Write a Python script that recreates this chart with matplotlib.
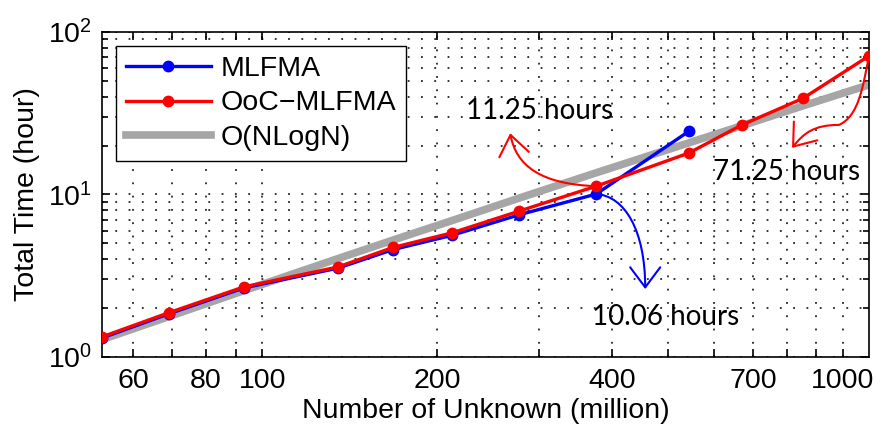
import matplotlib
matplotlib.use("Agg")
import matplotlib.pyplot as plt
from matplotlib.patches import FancyArrowPatch
from matplotlib.path import Path
from matplotlib.transforms import IdentityTransform
from matplotlib.lines import Line2D
import numpy as np

plt.rcParams["font.family"] = ["Liberation Sans", "DejaVu Sans"]

# problem size (million unknowns) and total solution time (hours)
unknowns = [53, 69, 93, 135, 168, 212, 277, 376, 543, 670, 853, 1109]
ooc_time = [1.33, 1.87, 2.70, 3.58, 4.72, 5.8, 7.9, 11.25, 18.0, 26.8, 39.0, 71.25]
mlfma_time = [1.31, 1.84, 2.66, 3.52, 4.58, 5.6, 7.5, 10.06, 24.5]
nlogn_ref = [1.28, 1.77, 2.56, 4.03, 5.24, 6.9, 9.5, 13.6, 20.8, 26.5, 35.1, 47.3]

xtick_vals = [60, 70, 80, 90, 100, 200, 300, 400, 500, 600, 700, 800, 900, 1000]
xtick_text = ["60", "", "80", "", "100", "200", "", "400", "", "", "700", "", "", "1000"]

FS = 20.5

fig = plt.figure(figsize=(8.77, 4.30), dpi=100)
ax = fig.add_axes([0.1163, 0.1698, 0.8746, 0.7558])

ax.plot(unknowns, nlogn_ref, color="#a6a6a6", lw=5.5, solid_capstyle="butt", zorder=2)
ax.plot(unknowns[:len(mlfma_time)], mlfma_time, color="#0000ff", lw=2.4,
        marker="o", ms=7.5, zorder=3)
ax.plot(unknowns, ooc_time, color="#ff0000", lw=2.4, marker="o", ms=7.5, zorder=4)

ax.set_xscale("log")
ax.set_yscale("log")
ax.set_xlim(unknowns[0], unknowns[-1])
ax.set_ylim(1, 100)

ax.set_xticks(xtick_vals)
ax.set_xticklabels(xtick_text)
ax.xaxis.set_minor_locator(matplotlib.ticker.NullLocator())
ax.yaxis.set_minor_locator(matplotlib.ticker.LogLocator(base=10, subs=np.arange(2, 10)))
ax.yaxis.set_minor_formatter(matplotlib.ticker.NullFormatter())

ax.tick_params(which="both", direction="in", top=True, right=True,
               labelsize=FS, width=1.2, color="black")
ax.tick_params(which="major", length=6)
ax.tick_params(which="minor", length=4)
ax.tick_params(axis="x", pad=8)
ax.tick_params(axis="y", pad=7)
for sp in ax.spines.values():
    sp.set_linewidth(1.2)

dots = (0, (1.2, 7.5))
ax.grid(True, which="major", axis="both", color="black", lw=1.1, linestyle=dots, zorder=0)
ax.grid(True, which="minor", axis="y", color="black", lw=1.1, linestyle=dots, zorder=0)
ax.set_axisbelow(True)

ax.set_xlabel("Number of Unknown (million)", fontsize=FS, labelpad=3)
ax.set_ylabel("Total Time (hour)", fontsize=FS, labelpad=6)

handles = [
    Line2D([], [], color="#0000ff", lw=2.4, marker="o", ms=7.5),
    Line2D([], [], color="#ff0000", lw=2.4, marker="o", ms=7.5),
    Line2D([], [], color="#a6a6a6", lw=5.5),
]
leg = ax.legend(handles, ["MLFMA", "OoC\u2212MLFMA", "O(NLogN)"],
                loc="upper left", bbox_to_anchor=(0.018, 0.957), borderaxespad=0,
                fontsize=FS, handlelength=3.0, handletextpad=0.32,
                borderpad=0.35, labelspacing=0.3, fancybox=False,
                edgecolor="black", framealpha=1)
leg.get_frame().set_linewidth(1.0)
leg.set_zorder(10)


def curved_arrow(x, y, offsets, color):
    # offsets are display-pixel Bezier control points relative to the data point
    x0, y0 = ax.transData.transform((x, y))
    verts = [(x0, y0)] + [(x0 + dx, y0 + dy) for dx, dy in offsets]
    codes = [Path.MOVETO] + [Path.CURVE4] * len(offsets)
    arrow = FancyArrowPatch(path=Path(verts, codes), transform=IdentityTransform(),
                            arrowstyle="->,head_length=0.6,head_width=0.45",
                            mutation_scale=24, color=color, lw=1.5, zorder=6)
    fig.add_artist(arrow)


curved_arrow(unknowns[7], ooc_time[7], [(-55, 2), (-80, 20), (-86, 53)], "#ff0000")
curved_arrow(unknowns[7], mlfma_time[7], [(29, -2), (49, -37), (49, -95)], "#0000ff")
curved_arrow(unknowns[-1], ooc_time[-1],
             [(-6, -30), (-10, -60), (-30, -69),
              (-55, -69), (-65, -77), (-77, -92)], "#ff0000")

note_font = dict(fontsize=20, family=["Lato", "DejaVu Sans"], color="black",
                 transform=ax.transAxes, va="baseline", ha="left", zorder=7)
ax.text(0.4746, 0.731, f"{ooc_time[7]:.2f} hours", **note_font)
ax.text(0.796, 0.545, f"{ooc_time[-1]:.2f} hours", **note_font)
ax.text(0.639, 0.098, f"{mlfma_time[7]:.2f} hours", **note_font)

fig.savefig("out.png", dpi=100)
